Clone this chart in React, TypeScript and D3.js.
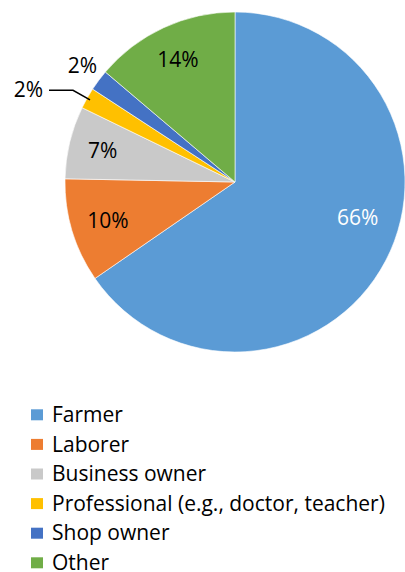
import React from "react";
import * as d3 from "d3";

const categories = ["Farmer", "Laborer", "Business owner", "Professional (e.g., doctor, teacher)", "Shop owner", "Other"];
const values = [65.4, 9.9, 6.9, 2.0, 2.0, 13.8];
const labels = ["66%", "10%", "7%", "2%", "2%", "14%"];
const colors = ["#5B9BD5", "#ED7D31", "#C9C9C9", "#FFC000", "#4472C4", "#70AD47"];

const W = 405, H = 572;
const cx = 235, cy = 182, R = 170;
const FONT = "'Open Sans', Lato, sans-serif";

export default function App() {
  const pie = d3.pie<number>().sort(null).value((d) => d)(values);
  const arc = d3.arc<d3.PieArcDatum<number>>().innerRadius(0).outerRadius(R);

  const labelFrac = [0.45, 0.5, 0.5, 0.5, 0.6, 0.5];
  const labelRad = [0.75, 0.78, 0.8, 0, 1.13, 0.8];

  const polar = (a: number, r: number) => [cx + Math.sin(a) * r, cy - Math.cos(a) * r];

  return (
    <svg width={W} height={H} style={{ position: "absolute", left: 0, top: 0, background: "#fff" }}>
      <g>
        {pie.map((p, i) => (
          <path key={i} d={arc(p) || ""} transform={`translate(${cx},${cy})`} fill={colors[i]} stroke="#fff" strokeWidth={0.6} />
        ))}
      </g>
      {pie.map((p, i) => {
        const a = p.startAngle + (p.endAngle - p.startAngle) * labelFrac[i];
        if (i === 3) {
          const [ex, ey] = polar(a, R * 0.98);
          const [mx, my] = polar(a, R * 1.095);
          const lx = mx - 24;
          return (
            <g key={i}>
              <polyline points={`${ex},${ey} ${mx},${my} ${lx},${my}`} fill="none" stroke="#000" strokeWidth={1.5} />
              <text x={lx - 6} y={my - 1} textAnchor="end" dominantBaseline="central" fontFamily={FONT} fontSize={21} fill="#000">{labels[i]}</text>
            </g>
          );
        }
        const [x, y] = polar(a, R * labelRad[i]);
        return (
          <text key={i} x={x} y={y} textAnchor="middle" dominantBaseline="central" fontFamily={FONT} fontSize={21} fill={i === 0 ? "#fff" : "#000"}>{labels[i]}</text>
        );
      })}
      <g>
        {categories.map((c, i) => (
          <g key={c} transform={`translate(31,${409.3 + i * 29.6})`}>
            <rect x={0} y={0} width={12} height={11} fill={colors[i]} />
            <text x={21} y={12.7} fontFamily={FONT} fontSize={21} fill="#000">{c}</text>
          </g>
        ))}
      </g>
    </svg>
  );
}
